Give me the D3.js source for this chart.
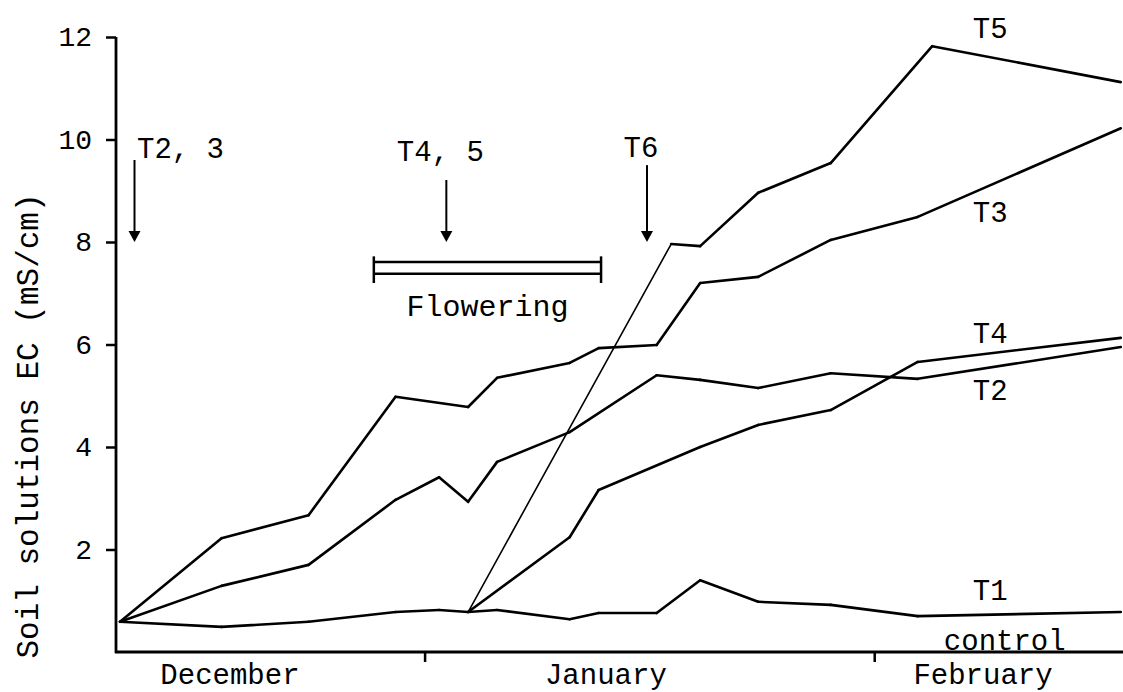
<!DOCTYPE html>
<html>
<head>
<meta charset="utf-8">
<script src="https://cdn.jsdelivr.net/npm/d3@7"></script>
<style>
    body { margin: 0; background: #fff; }
    text { font-family: "Courier New", "Liberation Mono", monospace; fill: #000; }
</style>
</head>
<body>
<div id="chart"></div>
<script>
// sampling dates (season 1989/90)
var dates = ['1989-12-11', '1989-12-18', '1989-12-24', '1989-12-30', '1990-01-02', '1990-01-04',
    '1990-01-06', '1990-01-11', '1990-01-13', '1990-01-17', '1990-01-18', '1990-01-20',
    '1990-01-24', '1990-01-29', '1990-02-04', '1990-02-05', '1990-02-18'];

// soil solution EC, mS/cm (null = not sampled for that treatment)
var t1 = [0.59, 0.49, 0.59, 0.78, 0.82, 0.78, 0.82, 0.64, 0.76, 0.76, null, 1.40, 0.98, 0.92, 0.70, null, 0.78];
var t2 = [0.59, 1.29, 1.70, 2.97, 3.41, 2.93, 3.71, 4.29, null, 5.40, null, 5.31, 5.15, 5.44, 5.33, null, 5.95];
var t3 = [0.59, 2.22, 2.67, 4.98, null, 4.78, 5.35, 5.64, 5.93, 5.99, null, 7.20, 7.32, 8.04, 8.49, null, 10.22];
var t4 = [null, null, null, null, null, 0.78, null, 2.24, 3.16, null, null, 4.00, 4.43, 4.72, 5.66, null, 6.13];
var t5 = [null, null, null, null, null, 0.78, null, null, null, null, 7.96, 7.92, 8.96, 9.54, null, 11.82, 11.12];

var yTicks = [2, 4, 6, 8, 10, 12];
var months = ['December', 'January', 'February'];
var monthMid = ['1989-12-18 14:00', '1990-01-13 12:00', '1990-02-08 12:00'];
var monthTicks = ['1990-01-01', '1990-02-01'];

// end labels of the curves
var seriesNames = ['T5', 'T3', 'T4', 'T2', 'T1', 'control'];
var labelDate = ['1990-02-09', '1990-02-09', '1990-02-09', '1990-02-09', '1990-02-09', '1990-02-10'];
var labelValue = [12.18, 8.59, 6.22, 5.11, 1.21, 0.23];

// application arrows
var arrowNames = ['T2, 3', 'T4, 5', 'T6'];
var arrowDate = ['1989-12-12', '1990-01-02 12:00', '1990-01-16 08:00'];
var flowering = ['1989-12-28 12:00', '1990-01-13 04:00'];

var parse = function(s) { return s.length > 10 ? d3.timeParse('%Y-%m-%d %H:%M')(s) : d3.timeParse('%Y-%m-%d')(s); };

var margin = { top: 37, right: 1, bottom: 40, left: 120 },
    W = 1123, H = 692,
    width = W - margin.left - margin.right,
    height = H - margin.top - margin.bottom;

var svg = d3.select('#chart').append('svg')
    .attr('width', W)
    .attr('height', H);

var g = svg.append('g')
    .attr('transform', 'translate(' + margin.left + ',' + margin.top + ')');

var x = d3.scaleTime()
    .domain([parse('1989-12-11'), parse('1990-02-18 02:00')])
    .range([0, width]);

var y = d3.scaleLinear()
    .domain([0, 12])
    .range([height, 0]);

var axisOff = -4;

// y axis
var yAxis = g.append('g')
    .attr('transform', 'translate(' + axisOff + ',0)')
    .call(d3.axisLeft(y).tickValues(yTicks).tickSize(10).tickSizeOuter(0).tickPadding(14));
yAxis.select('.domain').remove();
yAxis.selectAll('line').attr('stroke', '#000').attr('stroke-width', 2.5);
yAxis.selectAll('text').style('font-size', '28px').attr('font-family', null);

g.append('line')
    .attr('x1', axisOff).attr('x2', axisOff)
    .attr('y1', y(0) + 1).attr('y2', y(12))
    .attr('stroke', '#000').attr('stroke-width', 2.8);

// x axis
g.append('line')
    .attr('x1', axisOff - 1).attr('x2', W - margin.left)
    .attr('y1', y(0)).attr('y2', y(0))
    .attr('stroke', '#000').attr('stroke-width', 2.8);

var xAxis = g.append('g')
    .attr('transform', 'translate(0,' + height + ')')
    .call(d3.axisBottom(x).tickValues(monthTicks.map(parse)).tickSize(10).tickFormat(''));
xAxis.select('.domain').remove();
xAxis.selectAll('line').attr('stroke', '#000').attr('stroke-width', 2.5);

g.selectAll('.month')
    .data(months)
    .enter()
    .append('text')
    .attr('class', 'month')
    .attr('x', function(d, i) { return x(parse(monthMid[i])); })
    .attr('y', height + 32)
    .attr('text-anchor', 'middle')
    .style('font-size', '29px')
    .text(function(d) { return d; });

// y axis title
svg.append('text')
    .attr('transform', 'translate(27,' + (margin.top + 389) + ') rotate(-90)')
    .attr('text-anchor', 'middle')
    .attr('dy', '0.35em')
    .style('font-size', '31px')
    .text('Soil solutions EC (mS/cm)');

// curves, drawn segment by segment (the steep rise of T5 is a thinner stroke)
var series = [t1, t2, t3, t4, t5];
var line = d3.line()
    .x(function(d) { return x(d.date); })
    .y(function(d) { return y(d.value); });

series.forEach(function(values, k) {
    var pts = [];
    values.forEach(function(v, i) {
        if (v !== null) pts.push({ date: parse(dates[i]), value: v });
    });
    d3.pairs(pts).forEach(function(seg, j) {
        g.append('path')
            .datum(seg)
            .attr('d', line)
            .attr('fill', 'none')
            .attr('stroke', '#000')
            .attr('stroke-width', (k == 4 && j == 0) ? 1.6 : 2.6)
            .attr('stroke-linecap', 'round');
    });
});

g.selectAll('.lab')
    .data(seriesNames)
    .enter()
    .append('text')
    .attr('class', 'lab')
    .attr('x', function(d, i) { return x(parse(labelDate[i])); })
    .attr('y', function(d, i) { return y(labelValue[i]); })
    .attr('dy', '0.35em')
    .attr('text-anchor', 'middle')
    .style('font-size', '29px')
    .text(function(d) { return d; });

// arrows
var arrowTop = [9.6, 9.21, 9.5],
    arrowTip = 8.0,
    textShift = [46, -6, -6],
    textLift = [2, 19, 8];

arrowNames.forEach(function(name, i) {
    var ax = x(parse(arrowDate[i]));
    g.append('line')
        .attr('x1', ax).attr('x2', ax)
        .attr('y1', y(arrowTop[i])).attr('y2', y(arrowTip) - 8)
        .attr('stroke', '#000').attr('stroke-width', 2);
    g.append('path')
        .attr('d', 'M' + (ax - 6) + ',' + (y(arrowTip) - 11) + 'L' + (ax + 6) + ',' + (y(arrowTip) - 11) + 'L' + ax + ',' + y(arrowTip) + 'Z')
        .attr('fill', '#000');
    g.append('text')
        .attr('x', ax + textShift[i])
        .attr('y', y(arrowTop[i]) - textLift[i])
        .attr('text-anchor', 'middle')
        .style('font-size', '29px')
        .text(name);
});

// flowering period bar
var fx0 = x(parse(flowering[0])), fx1 = x(parse(flowering[1]));
[7.61, 7.38].forEach(function(v) {
    g.append('line')
        .attr('x1', fx0).attr('x2', fx1)
        .attr('y1', y(v)).attr('y2', y(v))
        .attr('stroke', '#000').attr('stroke-width', 2.5);
});
[fx0, fx1].forEach(function(fx) {
    g.append('line')
        .attr('x1', fx).attr('x2', fx)
        .attr('y1', y(7.72)).attr('y2', y(7.2))
        .attr('stroke', '#000').attr('stroke-width', 2.5);
});
g.append('text')
    .attr('x', (fx0 + fx1) / 2)
    .attr('y', y(6.55))
    .attr('text-anchor', 'middle')
    .style('font-size', '30px')
    .text('Flowering');
</script>
</body>
</html>
